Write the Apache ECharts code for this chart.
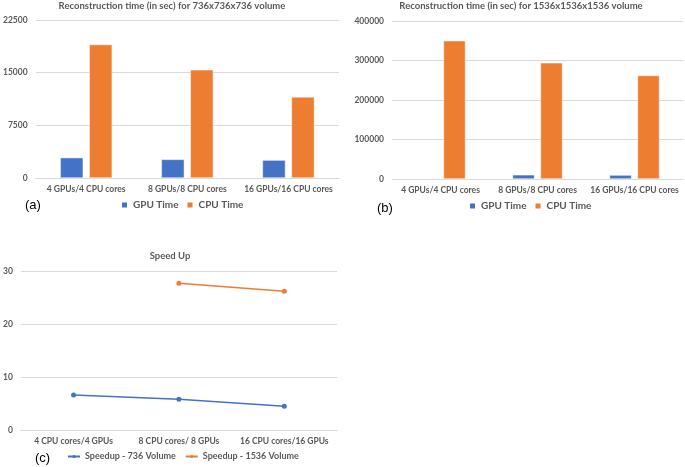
<!DOCTYPE html>
<html>
<head>
<meta charset="utf-8">
<script src="https://cdn.jsdelivr.net/npm/echarts@6/dist/echarts.min.js"></script>
<style>html,body{margin:0;padding:0;background:#fff;}#c{width:685px;height:467px;}</style>
</head>
<body>
<div id="c"></div>
<script>
const barCategories = ['4 GPUs/4 CPU cores', '8 GPUs/8 CPU cores', '16 GPUs/16 CPU cores'];
const gpu736 = [2900, 2650, 2550];
const cpu736 = [19000, 15400, 11550];
const gpu1536 = [null, 10650, 10000];
const cpu1536 = [350000, 294000, 262000];
const speedCategories = ['4 CPU cores/4 GPUs', '8 CPU cores/ 8 GPUs', '16 CPU cores/16 GPUs'];
const speedup736 = [6.6, 5.8, 4.5];
const speedup1536 = [null, 27.7, 26.2];

const FONT = 'Lato';
const TXT = '#595959';
const GRIDC = '#d9d9d9';
const BLUE = '#4472C4';
const ORANGE = '#ED7D31';

function xAx(gi, data) {
  return {
    type: 'category', gridIndex: gi, data: data,
    axisTick: { show: false },
    axisLine: { lineStyle: { color: GRIDC } },
    axisLabel: { color: TXT, fontFamily: FONT, fontSize: 8.5, fontWeight: 'bold', margin: 7, interval: 0 }
  };
}
function yAx(gi, max, interval) {
  return {
    type: 'value', gridIndex: gi, min: 0, max: max, interval: interval,
    axisLine: { show: false }, axisTick: { show: false },
    splitLine: { lineStyle: { color: GRIDC } },
    axisLabel: { color: TXT, fontFamily: FONT, fontSize: 8.5, fontWeight: 'bold', margin: 8, formatter: v => String(v) }
  };
}
const titleStyle = { color: TXT, fontFamily: FONT, fontSize: 9.5, fontWeight: 'bold' };
const tagStyle = { color: '#000', fontFamily: 'Liberation Sans', fontSize: 13, fontWeight: 'normal' };
const legText = { color: TXT, fontFamily: FONT, fontSize: 10, fontWeight: 'bold' };
const legTextC = { color: TXT, fontFamily: FONT, fontSize: 9, fontWeight: 'bold' };

const chart = echarts.init(document.getElementById('c'), null, { renderer: 'canvas' });
chart.setOption({
  animation: false,
  title: [
    { text: 'Reconstruction time (in sec) for 736x736x736 volume', left: 172, top: 1, padding: 0, textAlign: 'center', textStyle: titleStyle },
    { text: 'Reconstruction time (in sec) for 1536x1536x1536 volume', left: 521, top: 1, padding: 0, textAlign: 'center', textStyle: titleStyle },
    { text: 'Speed Up', left: 170, top: 251, padding: 0, textAlign: 'center', textStyle: titleStyle },
    { text: '(a)', left: 25, top: 199, padding: 0, textStyle: tagStyle },
    { text: '(b)', left: 377, top: 202, padding: 0, textStyle: tagStyle },
    { text: '(c)', left: 35, top: 452, padding: 0, textStyle: tagStyle }
  ],
  legend: [
    { data: ['GPU Time', 'CPU Time'], left: 120, top: 200, padding: 0, icon: 'rect', itemWidth: 7, itemHeight: 7, itemGap: 7, textStyle: legText,
      selectedMode: false },
    { data: ['GPU Time ', 'CPU Time '], left: 468, top: 201, padding: 0, icon: 'rect', itemWidth: 7, itemHeight: 7, itemGap: 7, textStyle: legText,
      selectedMode: false, formatter: n => n.trim() },
    { data: ['Speedup - 736 Volume', 'Speedup - 1536 Volume'], left: 67, top: 452, padding: 0, itemWidth: 12, itemHeight: 4, itemGap: 9,
      textStyle: legTextC, selectedMode: false }
  ],
  grid: [
    { left: 33, top: 20, width: 306, height: 158 },
    { left: 392, top: 21, width: 291, height: 158 },
    { left: 20, top: 271, width: 317, height: 159 }
  ],
  xAxis: [xAx(0, barCategories), xAx(1, barCategories), xAx(2, speedCategories)],
  yAxis: [yAx(0, 22500, 7500), yAx(1, 400000, 100000), yAx(2, 30, 10)],
  series: [
    { name: 'GPU Time', type: 'bar', xAxisIndex: 0, yAxisIndex: 0, data: gpu736, barWidth: 23, barGap: '26%',
      itemStyle: { color: BLUE, borderColor: '#fff', borderWidth: 0.5 } },
    { name: 'CPU Time', type: 'bar', xAxisIndex: 0, yAxisIndex: 0, data: cpu736, barWidth: 23, barGap: '26%',
      itemStyle: { color: ORANGE, borderColor: '#fff', borderWidth: 0.5 } },
    { name: 'GPU Time ', type: 'bar', xAxisIndex: 1, yAxisIndex: 1, data: gpu1536, barWidth: 22, barGap: '27%',
      itemStyle: { color: BLUE, borderColor: '#fff', borderWidth: 0.5 } },
    { name: 'CPU Time ', type: 'bar', xAxisIndex: 1, yAxisIndex: 1, data: cpu1536, barWidth: 22, barGap: '27%',
      itemStyle: { color: ORANGE, borderColor: '#fff', borderWidth: 0.5 } },
    { name: 'Speedup - 736 Volume', type: 'line', xAxisIndex: 2, yAxisIndex: 2, data: speedup736,
      symbol: 'circle', symbolSize: 5, lineStyle: { color: BLUE, width: 1.5 }, itemStyle: { color: BLUE } },
    { name: 'Speedup - 1536 Volume', type: 'line', xAxisIndex: 2, yAxisIndex: 2, data: speedup1536,
      symbol: 'circle', symbolSize: 5, lineStyle: { color: ORANGE, width: 1.5 }, itemStyle: { color: ORANGE } }
  ]
});
</script>
</body>
</html>
